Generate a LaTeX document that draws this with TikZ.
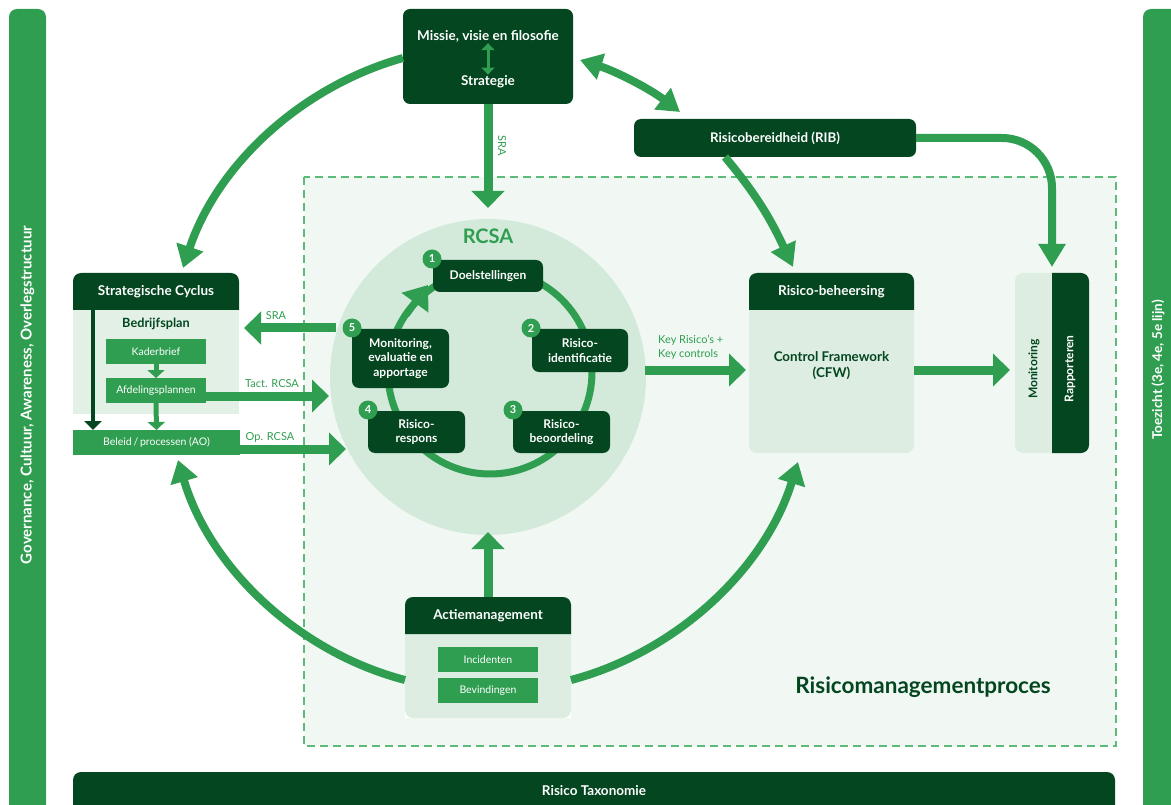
\documentclass[tikz,border=0pt]{standalone}
\usepackage{fontspec}
\setmainfont{Lato}
\usetikzlibrary{arrows.meta,calc}
\definecolor{dg}{HTML}{03461F}
\definecolor{gr}{HTML}{2F9E50}
\definecolor{lc}{HTML}{D3EADB}
\definecolor{lb}{HTML}{DDEDE1}
\definecolor{lsb}{HTML}{E3F0E6}
\definecolor{bgc}{HTML}{F1F8F3}
\definecolor{dsh}{HTML}{5CBB77}
\newcommand\fsz[2]{\fontsize{#1}{#2}\selectfont}
\tikzset{
  hdr/.style={text=white, font=\bfseries\fsz{13.5pt}{15pt}, inner sep=0pt, outer sep=0pt},
  dbox/.style={fill=dg, rounded corners=7pt, text=white, font=\bfseries\fsz{12pt}{14.5pt}, align=center, inner sep=0pt, outer sep=0pt},
  gbox/.style={fill=gr, text=white, font=\fsz{10.5pt}{12pt}, inner sep=0pt, outer sep=0pt},
  glabel/.style={text=gr, font=\fsz{11pt}{14pt}, inner sep=0pt},
  badge/.style={circle, fill=gr, text=white, font=\bfseries\fsz{11pt}{12pt}, minimum size=19pt, inner sep=0pt},
  holder/.style={inner sep=0pt, outer sep=0pt},
  bigarc/.style={draw=gr, line width=8pt, -{Triangle[length=22pt,width=27pt]}},
  fatarrow/.style={draw=gr, line width=9pt, -{Triangle[length=17pt,width=32pt]}},
  smallarrow/.style={draw=gr, line width=5pt, -{Triangle[length=8pt,width=17pt]}},
  vtext/.style={rotate=90, font=\bfseries\fsz{13.5pt}{15pt}, inner sep=0pt}
}
\begin{document}
\begin{tikzpicture}[x=1pt,y=-1pt]
\useasboundingbox (0,0) rectangle (1171,805);
% side and bottom bars
\fill[gr, rounded corners=8pt] (9,9) rectangle (46,840);
\node[vtext, text=white, font=\bfseries\fsz{15pt}{16pt}] (gov) at (27.5,395) {Governance, Cultuur, Awareness, Overlegstructuur};
\fill[gr, rounded corners=8pt] (1143,9) rectangle (1200,840);
\node[vtext, text=white] (toe) at (1158,370) {Toezicht (3e, 4e, 5e lijn)};
\fill[dg, rounded corners=8pt] (73,772) rectangle (1115,840);
\node[text=white, font=\bfseries\fsz{13.5pt}{15pt}] (tax) at (594,791) {Risico Taxonomie};
% dashed process area
\draw[dsh, fill=bgc, line width=1.2pt, dash pattern=on 8pt off 5pt] (304,177) rectangle (1116,746);
\node[text=dg, font=\bfseries\fsz{22.5pt}{25pt}] (rmp) at (923,687) {Risicomanagementproces};
% RCSA circle
\node[circle, fill=lc, minimum size=316pt, inner sep=0pt, outer sep=0pt] (rcsa) at (488,377) {};
\node[text=gr, font=\bfseries\fsz{20pt}{22pt}] (rcsat) at (488,236) {RCSA};
\node[circle, draw=gr, line width=7pt, minimum size=204pt, inner sep=0pt] (ring) at (490,372) {};
\coordinate (ra1) at (406,315);
\coordinate (ra2) at (428,285);
\draw[gr, line width=7pt, -{Triangle[length=22pt,width=32pt]}] (ra1) -- (ra2);
% RCSA steps
\node[dbox, minimum width=110pt, minimum height=32pt] (b1) at (488,276) {Doelstellingen};
\node[dbox, minimum width=96pt, minimum height=43pt] (b2) at (580,350.5) {Risico-\\identificatie};
\node[dbox, minimum width=97pt, minimum height=42pt] (b3) at (561.5,432) {Risico-\\beoordeling};
\node[dbox, minimum width=97pt, minimum height=42pt] (b4) at (416.5,432) {Risico-\\respons};
\node[dbox, minimum width=97pt, minimum height=59pt] (b5) at (400.5,358.5) {Monitoring,\\evaluatie en\\apportage};
\node[badge] (n1) at (432,259) {1};
\node[badge] (n2) at (531,328) {2};
\node[badge] (n3) at (513,410) {3};
\node[badge] (n4) at (368,410) {4};
\node[badge] (n5) at (352,328) {5};
% Strategische cyclus
\fill[lsb] (73,310) rectangle (239,414);
\fill[dg] (73,310) [rounded corners=8pt] -- (73,273) -- (239,273) [sharp corners] -- (239,310) -- cycle;
\node[hdr, minimum width=166pt, minimum height=37pt] (strath) at (156,291.5) {Strategische Cyclus};
\node[holder, minimum width=166pt, minimum height=104pt] (stratb) at (156,362) {};
\node[text=dg, font=\bfseries\fsz{12.7pt}{14pt}] (bplan) at (156,324) {Bedrijfsplan};
\node[gbox, minimum width=100pt, minimum height=25pt] (kader) at (156,351.5) {Kaderbrief};
\node[gbox, minimum width=100pt, minimum height=25pt] (afd) at (156,390.5) {Afdelingsplannen};
\node[gbox, minimum width=167pt, minimum height=25pt] (beleid) at (156.5,442.5) {Beleid\,/\,processen (AO)};
\draw[smallarrow] (kader.south) -- (afd.north);
\draw[smallarrow] (afd.south) -- (beleid.north);
\draw[dg, line width=4.5pt, -{Triangle[length=9pt,width=17pt]}] ([xshift=20pt]strath.south west) -- ([xshift=20pt]beleid.north west);
% arrows between Strategische cyclus and RCSA
\coordinate (sraS) at (336,328);
\coordinate (tactE) at (329,396);
\coordinate (opE) at (346,449);
\draw[fatarrow] (sraS) -- ([xshift=5pt,yshift=34pt]stratb.east);
\draw[fatarrow] ([yshift=-5.5pt]afd.east) -- (tactE);
\draw[fatarrow] ([yshift=-6.5pt]beleid.east) -- (opE);
\node[glabel] (lsra) at (276,316) {SRA};
\node[glabel] (ltact) at (272,384) {Tact. RCSA};
\node[glabel] (lop) at (270,437) {Op. RCSA};
% Missie
\node[dbox, minimum width=170pt, minimum height=95pt] (missie) at (488,56.5) {};
\node[text=white, font=\bfseries\fsz{13.5pt}{15pt}, inner sep=1pt] (mvf) at (488,36) {Missie, visie en filosofie};
\node[text=white, font=\bfseries\fsz{13.5pt}{15pt}, inner sep=1pt] (strg) at (488,82) {Strategie};
\draw[gr, line width=3pt, {Triangle[length=7pt,width=13pt]}-{Triangle[length=7pt,width=13pt]}] (mvf.south) -- (strg.north);
\draw[fatarrow] (missie.south) -- ([yshift=11pt]rcsa.north);
\node[glabel, rotate=-90] (lsra2) at (502,146) {SRA};
% RIB
\node[dbox, font=\bfseries\fsz{13.3pt}{15pt}, minimum width=282pt, minimum height=38pt] (rib) at (775,138) {Risicobereidheid (RIB)};
\draw[gr, line width=8pt, {Triangle[length=22pt,width=26pt]}-{Triangle[length=22pt,width=26pt]}] ([xshift=7pt,yshift=-3.5pt]missie.east) to[bend left=10, looseness=0.86] ([xshift=-95pt,yshift=7pt]rib.north);
% Risico-beheersing
\fill[lb, rounded corners=8pt] (749,273) rectangle (914,453);
\fill[dg] (749,310) [rounded corners=8pt] -- (749,273) -- (914,273) [sharp corners] -- (914,310) -- cycle;
\node[hdr, minimum width=165pt, minimum height=37pt] (beheh) at (831.5,291.5) {Risico-beheersing};
\node[holder, minimum width=165pt, minimum height=180pt] (behe) at (831.5,363) {};
\node[text=dg, font=\bfseries\fsz{13.4pt}{16pt}, align=center] (cfw) at (831.5,366) {Control Framework\\(CFW)};
% Monitoring / Rapporteren
\fill[lb, rounded corners=8pt] (1015,273) rectangle (1089,453);
\fill[dg] (1052,273) [rounded corners=8pt] -- (1089,273) -- (1089,453) [sharp corners] -- (1052,453) -- cycle;
\node[holder, minimum width=74pt, minimum height=180pt] (mon) at (1052,363) {};
\node[rotate=90, text=dg, font=\bfseries\fsz{12pt}{13pt}] (monT) at (1034,369) {Monitoring};
\node[rotate=90, text=white, font=\bfseries\fsz{12pt}{13pt}] (rapT) at (1070,369) {Rapporteren};
% arrows on the right
\draw[gr, line width=8pt, rounded corners=50pt, -{Triangle[length=23pt,width=26pt]}] (rib.east) -| ([yshift=6pt]mon.north);
\draw[gr, line width=8pt, -{Triangle[length=23pt,width=26pt]}] ([xshift=-50pt]rib.south) to[out=-50, in=115] ([xshift=-38.5pt,yshift=6pt]behe.north);
\coordinate (krS) at (645,370);
\draw[fatarrow] (krS) -- ([xshift=-3pt,yshift=-7pt]behe.west);
\node[glabel, anchor=west, align=left] (lkr) at (658,347) {Key Risico’s +\\Key controls};
\draw[fatarrow] ([yshift=-7pt]behe.east) -- ([xshift=-5pt,yshift=-7pt]mon.west);
% Actiemanagement
\fill[white] (405,640) rectangle (571,718);
\fill[lb, rounded corners=8pt] (405,597) rectangle (571,718);
\fill[dg] (405,634) [rounded corners=8pt] -- (405,597) -- (571,597) [sharp corners] -- (571,634) -- cycle;
\node[hdr, minimum width=166pt, minimum height=37pt] (acth) at (488,615.5) {Actiemanagement};
\node[holder, minimum width=166pt, minimum height=121pt] (actie) at (488,657.5) {};
\node[gbox, minimum width=100pt, minimum height=25pt] (inc) at (488,659.5) {Incidenten};
\node[gbox, minimum width=100pt, minimum height=25pt] (bev) at (488,690.5) {Bevindingen};
\draw[fatarrow] (actie.north) -- ([yshift=3pt]rcsa.south);
% big circular arrows
\draw[bigarc] ([yshift=-1.5pt]missie.west) to[bend right=28, looseness=0.9] ([xshift=27pt,yshift=5pt]strath.north);
\draw[bigarc] ([yshift=-22.5pt]actie.west) to[bend left=29.5, looseness=0.9] ([xshift=21.5pt,yshift=-5pt]beleid.south);
\draw[bigarc] ([yshift=-22.5pt]actie.east) to[bend right=29, looseness=0.9] ([xshift=-33.5pt,yshift=-9pt]behe.south);
\end{tikzpicture}
\end{document}
